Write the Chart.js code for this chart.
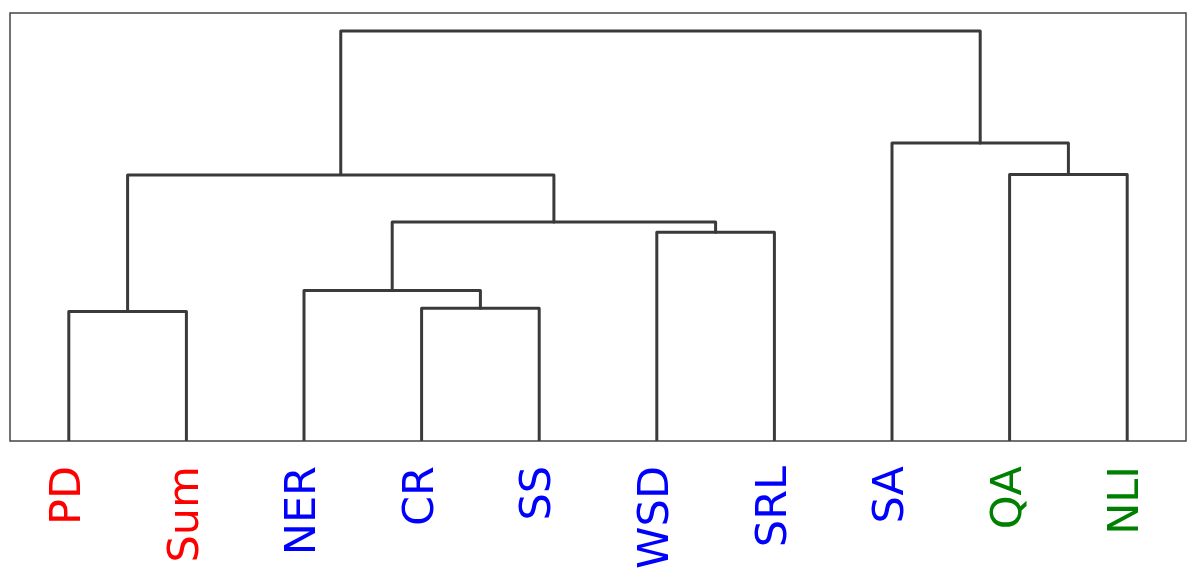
<!DOCTYPE html>
<html lang="en">
<head>
    <meta charset="UTF-8">
    <title>Task dendrogram</title>
    <script src="https://cdn.jsdelivr.net/npm/chart.js@4.4.0/dist/chart.umd.min.js"></script>
    <style>
        html, body { margin: 0; padding: 0; background: #fff; }
        #wrap { width: 1196px; height: 581px; position: relative; }
    </style>
</head>
<body>
    <div id="wrap"><canvas id="dendro"></canvas></div>

    <script>
        // Leaves, in the order they are drawn
        const leaves = ['PD', 'Sum', 'NER', 'CR', 'SS', 'WSD', 'SRL', 'SA', 'QA', 'NLI'];
        const leafColors = ['#ff0000', '#ff0000', '#0000ff', '#0000ff', '#0000ff',
                            '#0000ff', '#0000ff', '#0000ff', '#008000', '#008000'];

        // Merges: [left child, right child, height]; ids 0-9 are leaves, 10+ are clusters
        const mergeLeft   = [0, 3, 2, 5, 12, 10, 8, 7, 15];
        const mergeRight  = [1, 4, 11, 6, 13, 14, 9, 16, 17];
        const mergeHeight = [0.316, 0.324, 0.367, 0.509, 0.534, 0.649, 0.650, 0.727, 1.0];

        const yMax = 1.044;

        // leaf positions follow scipy convention: 5, 15, 25, ...
        const leafX = leaves.map((_, i) => 5 + 10 * i);
        const nodeX = leafX.slice();
        const nodeH = leaves.map(() => 0);

        const datasets = [];
        mergeHeight.forEach((h, k) => {
            const a = mergeLeft[k], b = mergeRight[k];
            const xa = nodeX[a], xb = nodeX[b];
            datasets.push({
                data: [
                    { x: xa, y: nodeH[a] },
                    { x: xa, y: h },
                    { x: xb, y: h },
                    { x: xb, y: nodeH[b] }
                ],
                showLine: true,
                borderColor: '#3a3a3a',
                borderWidth: 3,
                borderJoinStyle: 'round',
                pointRadius: 0,
                tension: 0
            });
            nodeX.push((xa + xb) / 2);
            nodeH.push(h);
        });

        // box around the plot area
        const frame = {
            id: 'frame',
            afterDraw(chart) {
                const { ctx, chartArea: a } = chart;
                ctx.save();
                ctx.strokeStyle = '#444';
                ctx.lineWidth = 1.5;
                ctx.strokeRect(a.left, a.top, a.right - a.left, a.bottom - a.top);
                ctx.restore();
            }
        };

        new Chart(document.getElementById('dendro'), {
            type: 'scatter',
            data: { datasets },
            plugins: [frame],
            options: {
                responsive: true,
                maintainAspectRatio: false,
                animation: false,
                layout: { padding: { left: 10, right: 4, top: 13, bottom: 0 } },
                plugins: {
                    legend: { display: false },
                    tooltip: { enabled: false }
                },
                scales: {
                    x: {
                        type: 'linear',
                        min: 0,
                        max: 100,
                        grid: { display: false },
                        border: { display: false },
                        afterBuildTicks: axis => { axis.ticks = leafX.map(v => ({ value: v })); },
                        afterFit: axis => { axis.height = 140; },
                        ticks: {
                            autoSkip: false,
                            minRotation: 90,
                            maxRotation: 90,
                            padding: 17,
                            font: { family: 'DejaVu Sans', size: 43 },
                            color: ctx => leafColors[ctx.index],
                            callback: (value, index) => leaves[index]
                        }
                    },
                    y: {
                        display: false,
                        min: 0,
                        max: yMax
                    }
                }
            }
        });
    </script>
</body>
</html>
